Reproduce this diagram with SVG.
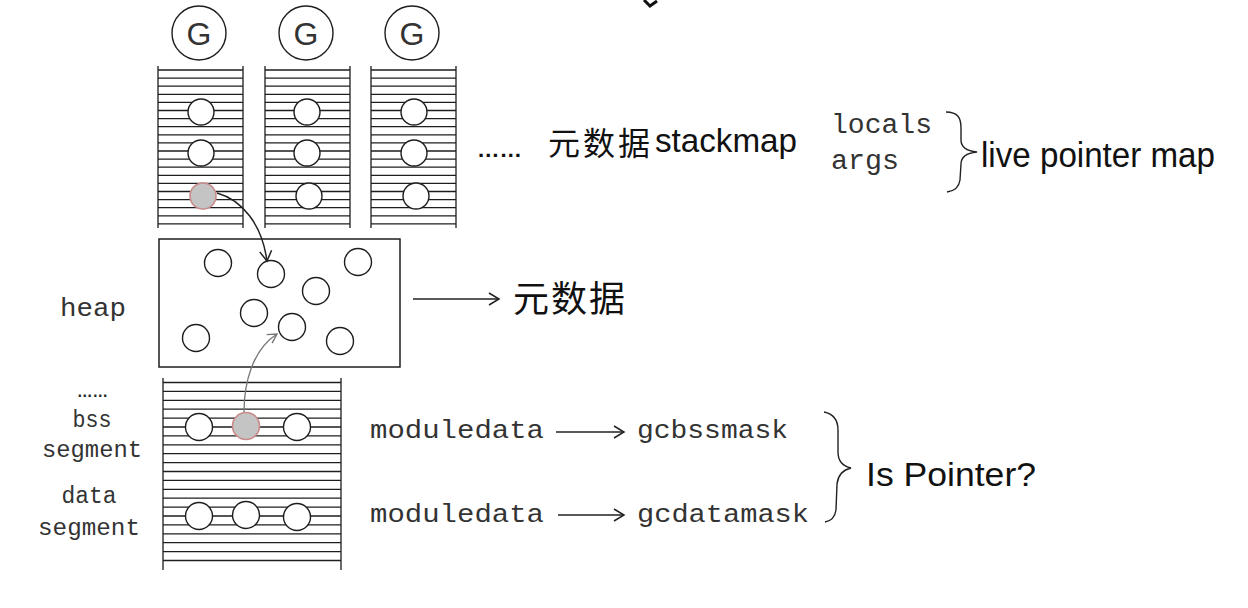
<svg xmlns="http://www.w3.org/2000/svg" xmlns:xlink="http://www.w3.org/1999/xlink" width="1248" height="608" viewBox="0 0 1248 608">
<style>
.ln{stroke:#1e1e1e;stroke-width:1.3;fill:none}
.c{fill:#fff;stroke:#1e1e1e;stroke-width:1.4}
.cg{fill:#c4c4c4;stroke:#c98a8a;stroke-width:1.6}
.g{font-family:"Liberation Sans",Arial,sans-serif;font-size:32px;fill:#333;text-anchor:middle}
.mono{font-family:"Liberation Mono","Courier New",monospace;fill:#333}
.hand{font-family:"Liberation Sans Narrow","Liberation Sans",sans-serif;fill:#111}
.cjk{font-family:"Noto Sans CJK SC","Noto Sans CJK JP",sans-serif;fill:#111}
.br{fill:none;stroke:#222;stroke-width:1.4}
</style>
<defs>
<path id="stackLines" class="ln" d="M0,66V228M85,66V228M0,70h85M0,78.1h85M0,86.2h85M0,94.3h85M0,102.4h85M0,110.5h85M0,118.6h85M0,126.7h85M0,134.8h85M0,142.9h85M0,151h85M0,159.1h85M0,167.2h85M0,175.3h85M0,183.4h85M0,191.5h85M0,199.6h85M0,207.7h85M0,215.8h85M0,223.9h85"/>
<marker id="ah" markerUnits="userSpaceOnUse" markerWidth="16" markerHeight="16" refX="11" refY="7" orient="auto" viewBox="0 0 16 14">
<path d="M1,1 L11,7 L1,13" fill="none" stroke="#222" stroke-width="1.5"/>
</marker>
<marker id="ahg" markerUnits="userSpaceOnUse" markerWidth="14" markerHeight="14" refX="10" refY="6" orient="auto" viewBox="0 0 14 12">
<path d="M1,1 L10,6 L1,11" fill="none" stroke="#777" stroke-width="1.4"/>
</marker>
</defs>
<rect width="1248" height="608" fill="#fff"/>
<path d="M644,0 L650,6 L657,1" fill="none" stroke="#111" stroke-width="3"/>

<g id="g1"><circle class="c" cx="199" cy="33" r="27"/><text class="g" x="199" y="45">G</text></g>
<g id="g2"><circle class="c" cx="306" cy="33" r="27"/><text class="g" x="306" y="45">G</text></g>
<g id="g3"><circle class="c" cx="412" cy="33" r="27"/><text class="g" x="412" y="45">G</text></g>

<g id="stack1">
<use xlink:href="#stackLines" href="#stackLines" x="158"/>
<circle class="c" cx="201" cy="112" r="13"/>
<circle class="c" cx="201" cy="153" r="13"/>
<circle class="cg" cx="203" cy="196" r="13"/>
</g>
<g id="stack2">
<use xlink:href="#stackLines" href="#stackLines" x="265"/>
<circle class="c" cx="307" cy="112" r="13"/>
<circle class="c" cx="307" cy="153" r="13"/>
<circle class="c" cx="309" cy="196" r="13"/>
</g>
<g id="stack3">
<use xlink:href="#stackLines" href="#stackLines" x="371"/>
<circle class="c" cx="414" cy="112" r="13"/>
<circle class="c" cx="414" cy="153" r="13"/>
<circle class="c" cx="416" cy="196" r="13"/>
</g>

<g id="stackmap-label">
<text x="477" y="157" font-family="Liberation Sans,sans-serif" font-weight="bold" font-size="22" fill="#111" textLength="45" lengthAdjust="spacingAndGlyphs">……</text>
<text class="cjk" x="548" y="155" font-size="32" textLength="102">元数据</text>
<text class="hand" x="655" y="152" font-size="33" textLength="142" lengthAdjust="spacingAndGlyphs">stackmap</text>
<text class="mono" x="831" y="133" font-size="27" textLength="101" lengthAdjust="spacingAndGlyphs">locals</text>
<text class="mono" x="831" y="169" font-size="27" textLength="68" lengthAdjust="spacingAndGlyphs">args</text>
<path class="br" d="M946,112 C958,112 961,118 961,128 L961,140 C961,147 967,151 977,152 C967,153 961,157 961,164 L960,180 C959,187 955,191 947,192"/>
<text class="hand" x="981" y="167" font-size="35" textLength="234" lengthAdjust="spacingAndGlyphs">live pointer map</text>
</g>

<g id="heap">
<text class="mono" x="93" y="316" font-size="26" text-anchor="middle" textLength="66" lengthAdjust="spacingAndGlyphs">heap</text>
<rect x="159" y="239" width="241" height="128" fill="none" stroke="#1e1e1e" stroke-width="1.5"/>
<circle class="c" cx="218" cy="263" r="13.5"/>
<circle class="c" cx="271" cy="274" r="13.5"/>
<circle class="c" cx="358" cy="262" r="13.5"/>
<circle class="c" cx="316" cy="291" r="13.5"/>
<circle class="c" cx="254" cy="313" r="13.5"/>
<circle class="c" cx="292" cy="327" r="13.5"/>
<circle class="c" cx="196" cy="338" r="13.5"/>
<circle class="c" cx="340" cy="341" r="13.5"/>
</g>

<g id="heap-meta">
<text class="cjk" x="513" y="312" font-size="36" textLength="112">元数据</text>
</g>

<g id="segments">
<text x="77" y="397" font-family="Liberation Sans,sans-serif" font-weight="bold" font-size="16" fill="#222" textLength="31" lengthAdjust="spacingAndGlyphs">……</text>
<text class="mono" x="92" y="427" font-size="23" text-anchor="middle" textLength="39" lengthAdjust="spacingAndGlyphs">bss</text>
<text class="mono" x="92" y="457" font-size="23" text-anchor="middle" textLength="100" lengthAdjust="spacingAndGlyphs">segment</text>
<text class="mono" x="89" y="503" font-size="23" text-anchor="middle" textLength="55" lengthAdjust="spacingAndGlyphs">data</text>
<text class="mono" x="89" y="535" font-size="23" text-anchor="middle" textLength="102" lengthAdjust="spacingAndGlyphs">segment</text>
<path class="ln" d="M163,378V570M341,378V570M163,382.5h178M163,391.4h178M163,400.3h178M163,409.2h178M163,418.1h178M163,427h178M163,435.9h178M163,444.8h178M163,453.7h178M163,462.6h178M163,471.5h178M163,480.4h178M163,489.3h178M163,498.2h178M163,507.1h178M163,516h178M163,524.9h178M163,533.8h178M163,542.7h178M163,551.6h178M163,560.5h178"/>
<circle class="c" cx="199" cy="427" r="13.5"/>
<circle class="cg" cx="246" cy="426" r="13.5"/>
<circle class="c" cx="297" cy="427" r="13.5"/>
<circle class="c" cx="199" cy="516" r="13.5"/>
<circle class="c" cx="246" cy="515" r="13.5"/>
<circle class="c" cx="297" cy="517" r="13.5"/>
</g>

<g id="moduledata">
<text class="mono" x="370" y="438" font-size="26" textLength="174" lengthAdjust="spacingAndGlyphs">moduledata</text>
<text class="mono" x="637" y="438" font-size="26" textLength="151" lengthAdjust="spacingAndGlyphs">gcbssmask</text>
<text class="mono" x="370" y="522" font-size="26" textLength="174" lengthAdjust="spacingAndGlyphs">moduledata</text>
<text class="mono" x="637" y="522" font-size="26" textLength="172" lengthAdjust="spacingAndGlyphs">gcdatamask</text>
<path class="br" d="M824,412 C834,414 838,420 838,430 L838,452 C838,460 842,466 851,468 C842,470 838,476 837,484 L836,510 C835,517 831,521 825,522"/>
<text class="hand" x="866" y="486" font-size="34" textLength="170" lengthAdjust="spacingAndGlyphs">Is Pointer?</text>
</g>

<g id="connectors">
<path d="M217,193 C242,200 262,224 267,261" fill="none" stroke="#222" stroke-width="1.5" marker-end="url(#ah)"/>
<path d="M244,412 C244,384 252,350 277,334" fill="none" stroke="#777" stroke-width="1.3" marker-end="url(#ahg)"/>
<path d="M413,299 L499,299" fill="none" stroke="#222" stroke-width="1.4" marker-end="url(#ah)"/>
<path d="M556,432 L624,432" fill="none" stroke="#222" stroke-width="1.3" marker-end="url(#ah)"/>
<path d="M558,515 L624,515" fill="none" stroke="#222" stroke-width="1.3" marker-end="url(#ah)"/>
</g>
</svg>
